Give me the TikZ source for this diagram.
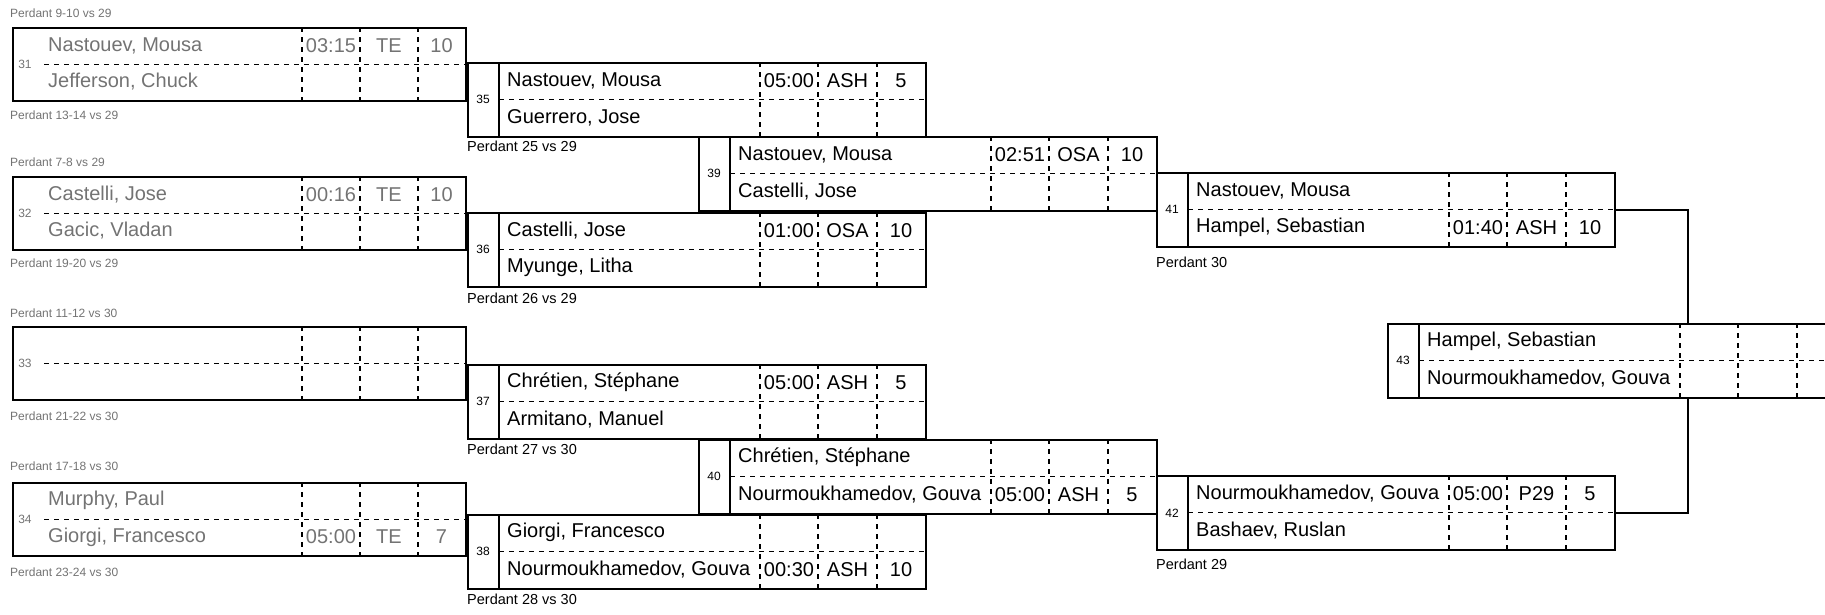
\documentclass[tikz,border=0pt]{standalone}
\usepackage{fontspec}
\setmainfont{Liberation Sans}
\usetikzlibrary{calc}
\tikzset{
  frame/.style={draw, line width=1.6pt, inner sep=0pt, anchor=north west, minimum width=458pt, minimum height=74pt},
  frameA/.style={frame, minimum width=453pt, minimum height=73pt},
  sepl/.style={line width=1.3pt},
  dsh/.style={line width=1.2pt, dash pattern=on 5pt off 5pt},
  nm/.style={font=\fontsize{20}{20}\selectfont, anchor=west, inner sep=0pt},
  fld/.style={font=\fontsize{20}{20}\selectfont, anchor=center, inner sep=0pt},
  num/.style={font=\fontsize{12}{12}\selectfont, anchor=center, inner sep=0pt},
  lbl/.style={font=\fontsize{14.5}{14.5}\selectfont, anchor=west, inner sep=0pt},
  lblA/.style={font=\fontsize{12}{12}\selectfont, anchor=west, inner sep=0pt, text=black!55},
  faded/.style={text=black!55},
  conn/.style={line width=1.6pt}
}
% #1 box, #2 separator offset, #3 #4 #5 divider offsets, #6 start of the middle dashed line
\newcommand\boutlines[6]{%
  \ifdim #2pt>0pt
    \draw[sepl] ($(#1.north west)+(#2,0)$) -- ($(#1.south west)+(#2,0)$);
  \fi
  \draw[dsh] ($(#1.west)+(#6,0)$) -- (#1.east);
  \foreach \d in {#3,#4,#5} {\draw[dsh] ($(#1.north west)+(\d,0)$) -- ($(#1.south west)+(\d,0)$);}
}
\begin{document}
\begin{tikzpicture}[x=1pt,y=-1pt]
\useasboundingbox (0,0) rectangle (1825,614);
\clip (0,0) rectangle (1825,614);

% ---------- column 1 (faded) ----------
\node[frameA] (b31) at (12,27) {};
\node[frameA] (b32) at (12,176) {};
\node[frameA] (b33) at (12,326) {};
\node[frameA] (b34) at (12,482) {};
\foreach \b in {b31,b32,b33,b34} {\boutlines{\b}{0}{290}{348}{406}{32}}

\node[num,faded] (n31) at ($(b31.west)+(13,0)$) {31};
\node[num,faded] (n32) at ($(b32.west)+(13,0)$) {32};
\node[num,faded] (n33) at ($(b33.west)+(13,0)$) {33};
\node[num,faded] (n34) at ($(b34.west)+(13,0)$) {34};

\node[nm,faded] (p31a) at ($(b31.north west)+(36,18.5)$) {Nastouev, Mousa};
\node[nm,faded] (p31b) at ($(b31.north west)+(36,55)$) {Jefferson, Chuck};
\node[fld,faded] (t31) at ($(b31.north west)+(319,18.5)$) {03:15};
\node[fld,faded] (m31) at ($(b31.north west)+(377,18.5)$) {TE};
\node[fld,faded] (s31) at ($(b31.north west)+(429.5,18.5)$) {10};

\node[nm,faded] (p32a) at ($(b32.north west)+(36,18.5)$) {Castelli, Jose};
\node[nm,faded] (p32b) at ($(b32.north west)+(36,55)$) {Gacic, Vladan};
\node[fld,faded] (t32) at ($(b32.north west)+(319,18.5)$) {00:16};
\node[fld,faded] (m32) at ($(b32.north west)+(377,18.5)$) {TE};
\node[fld,faded] (s32) at ($(b32.north west)+(429.5,18.5)$) {10};

\node[nm,faded] (p34a) at ($(b34.north west)+(36,18.5)$) {Murphy, Paul};
\node[nm,faded] (p34b) at ($(b34.north west)+(36,55)$) {Giorgi, Francesco};
\node[fld,faded] (t34) at ($(b34.north west)+(319,55)$) {05:00};
\node[fld,faded] (m34) at ($(b34.north west)+(377,55)$) {TE};
\node[fld,faded] (s34) at ($(b34.north west)+(429.5,55)$) {7};

\node[lblA] (l31a) at (10,13) {Perdant 9-10 vs 29};
\node[lblA] (l31b) at (10,115) {Perdant 13-14 vs 29};
\node[lblA] (l32a) at (10,162) {Perdant 7-8 vs 29};
\node[lblA] (l32b) at (10,263) {Perdant 19-20 vs 29};
\node[lblA] (l33a) at (10,313) {Perdant 11-12 vs 30};
\node[lblA] (l33b) at (10,416) {Perdant 21-22 vs 30};
\node[lblA] (l34a) at (10,466) {Perdant 17-18 vs 30};
\node[lblA] (l34b) at (10,572) {Perdant 23-24 vs 30};

% ---------- column 2 ----------
\node[frame] (b35) at (467,62) {};
\node[frame] (b36) at (467,212) {};
\node[frame] (b37) at (467,364) {};
\node[frame] (b38) at (467,514) {};
% ---------- column 3 ----------
\node[frame] (b39) at (698,136) {};
\node[frame] (b40) at (698,439) {};
% ---------- column 4 ----------
\node[frame] (b41) at (1156,172) {};
\node[frame] (b42) at (1156,475) {};
% ---------- column 5 ----------
\node[frame] (b43) at (1387,323) {};

\foreach \b in {b35,b36,b37,b38,b39,b40,b41,b42,b43} {\boutlines{\b}{32}{293}{351}{410}{32}}

\foreach \b/\n in {b35/35,b36/36,b37/37,b38/38,b39/39,b40/40,b41/41,b42/42,b43/43}
  {\node[num] (n\n) at ($(\b.west)+(16,0)$) {\n};}

% box 35
\node[nm] (p35a) at ($(b35.north west)+(40,18.5)$) {Nastouev, Mousa};
\node[nm] (p35b) at ($(b35.north west)+(40,55.5)$) {Guerrero, Jose};
\node[fld] (t35) at ($(b35.north west)+(322,18.5)$) {05:00};
\node[fld] (m35) at ($(b35.north west)+(380.5,18.5)$) {ASH};
\node[fld] (s35) at ($(b35.north west)+(434,18.5)$) {5};
% box 36
\node[nm] (p36a) at ($(b36.north west)+(40,18.5)$) {Castelli, Jose};
\node[nm] (p36b) at ($(b36.north west)+(40,55.5)$) {Myunge, Litha};
\node[fld] (t36) at ($(b36.north west)+(322,18.5)$) {01:00};
\node[fld] (m36) at ($(b36.north west)+(380.5,18.5)$) {OSA};
\node[fld] (s36) at ($(b36.north west)+(434,18.5)$) {10};
% box 37
\node[nm] (p37a) at ($(b37.north west)+(40,18.5)$) {Chrétien, Stéphane};
\node[nm] (p37b) at ($(b37.north west)+(40,55.5)$) {Armitano, Manuel};
\node[fld] (t37) at ($(b37.north west)+(322,18.5)$) {05:00};
\node[fld] (m37) at ($(b37.north west)+(380.5,18.5)$) {ASH};
\node[fld] (s37) at ($(b37.north west)+(434,18.5)$) {5};
% box 38
\node[nm] (p38a) at ($(b38.north west)+(40,18.5)$) {Giorgi, Francesco};
\node[nm] (p38b) at ($(b38.north west)+(40,55.5)$) {Nourmoukhamedov, Gouva};
\node[fld] (t38) at ($(b38.north west)+(322,55.5)$) {00:30};
\node[fld] (m38) at ($(b38.north west)+(380.5,55.5)$) {ASH};
\node[fld] (s38) at ($(b38.north west)+(434,55.5)$) {10};
% box 39
\node[nm] (p39a) at ($(b39.north west)+(40,18.5)$) {Nastouev, Mousa};
\node[nm] (p39b) at ($(b39.north west)+(40,55.5)$) {Castelli, Jose};
\node[fld] (t39) at ($(b39.north west)+(322,18.5)$) {02:51};
\node[fld] (m39) at ($(b39.north west)+(380.5,18.5)$) {OSA};
\node[fld] (s39) at ($(b39.north west)+(434,18.5)$) {10};
% box 40
\node[nm] (p40a) at ($(b40.north west)+(40,18.5)$) {Chrétien, Stéphane};
\node[nm] (p40b) at ($(b40.north west)+(40,55.5)$) {Nourmoukhamedov, Gouva};
\node[fld] (t40) at ($(b40.north west)+(322,55.5)$) {05:00};
\node[fld] (m40) at ($(b40.north west)+(380.5,55.5)$) {ASH};
\node[fld] (s40) at ($(b40.north west)+(434,55.5)$) {5};
% box 41
\node[nm] (p41a) at ($(b41.north west)+(40,18.5)$) {Nastouev, Mousa};
\node[nm] (p41b) at ($(b41.north west)+(40,55.5)$) {Hampel, Sebastian};
\node[fld] (t41) at ($(b41.north west)+(322,55.5)$) {01:40};
\node[fld] (m41) at ($(b41.north west)+(380.5,55.5)$) {ASH};
\node[fld] (s41) at ($(b41.north west)+(434,55.5)$) {10};
% box 42
\node[nm] (p42a) at ($(b42.north west)+(40,18.5)$) {Nourmoukhamedov, Gouva};
\node[nm] (p42b) at ($(b42.north west)+(40,55.5)$) {Bashaev, Ruslan};
\node[fld] (t42) at ($(b42.north west)+(322,18.5)$) {05:00};
\node[fld] (m42) at ($(b42.north west)+(380.5,18.5)$) {P29};
\node[fld] (s42) at ($(b42.north west)+(434,18.5)$) {5};
% box 43
\node[nm] (p43a) at ($(b43.north west)+(40,18.5)$) {Hampel, Sebastian};
\node[nm] (p43b) at ($(b43.north west)+(40,55.5)$) {Nourmoukhamedov, Gouva};

% labels
\node[lbl] (l35) at ($(b35.south west)+(0,9)$) {Perdant 25 vs 29};
\node[lbl] (l36) at ($(b36.south west)+(0,11)$) {Perdant 26 vs 29};
\node[lbl] (l37) at ($(b37.south west)+(0,10)$) {Perdant 27 vs 30};
\node[lbl] (l38) at ($(b38.south west)+(0,10)$) {Perdant 28 vs 30};
\node[lbl] (l41) at ($(b41.south west)+(0,15)$) {Perdant 30};
\node[lbl] (l42) at ($(b42.south west)+(0,14)$) {Perdant 29};

% connectors to final
\coordinate (j43t) at ($(b43.north west)+(301,0)$);
\coordinate (j43b) at ($(b43.south west)+(301,0)$);
\draw[conn] (b41.east) -| (j43t);
\draw[conn] (b42.east) -| (j43b);
\end{tikzpicture}
\end{document}
